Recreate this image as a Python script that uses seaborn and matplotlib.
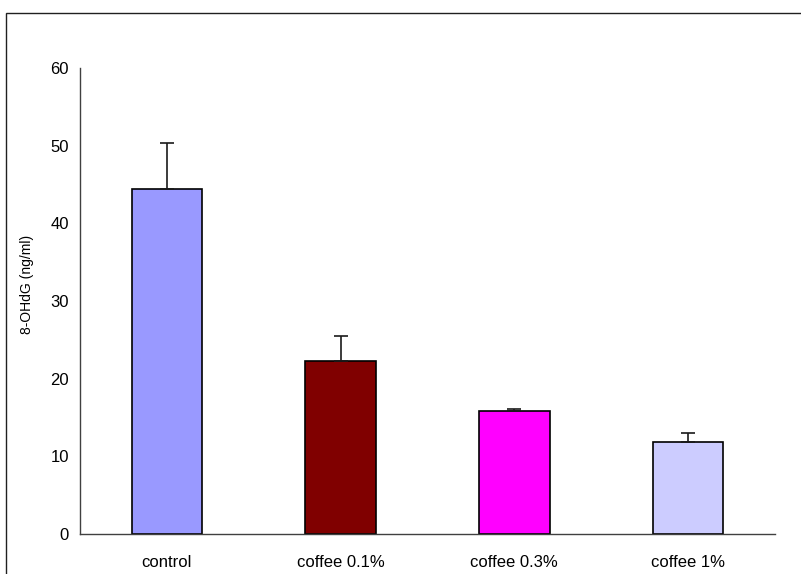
import matplotlib
matplotlib.use("Agg")
import matplotlib.pyplot as plt
from matplotlib.patches import Rectangle
import numpy as np
import pandas as pd
import seaborn as sns

# 8-OHdG levels by treatment group (mean with upper SD bar)
groups = ["control", "coffee 0.1%", "coffee 0.3%", "coffee 1%"]
means = [44.4, 22.25, 15.85, 11.85]
errors = [6.0, 3.25, 0.2, 1.1]
bar_colors = ["#9999FF", "#800000", "#FF00FF", "#CCCCFF"]
y_ticks = [0, 10, 20, 30, 40, 50, 60]

sns.set_theme(style="white")
plt.rcParams["font.family"] = ["Liberation Sans", "DejaVu Sans"]

W, H = 801, 574
fig = plt.figure(figsize=(W / 100, H / 100), dpi=100)
fig.patch.set_facecolor("white")

# plot area in pixel terms
left, right, top, bottom = 80, 775, 68.3, 533.7
ax = fig.add_axes([left / W, 1 - bottom / H, (right - left) / W, (bottom - top) / H])

df = pd.DataFrame({"group": groups, "value": means})
sns.barplot(data=df, x="group", y="value", hue="group", palette=bar_colors,
            order=groups, hue_order=groups, legend=False, errorbar=None,
            width=0.405, edgecolor="black", linewidth=1.2, saturation=1, ax=ax)

# upper-only error bars centred on each bar
centers = [p.get_x() + p.get_width() / 2 for p in ax.patches]
heights = [p.get_height() for p in ax.patches]
ax.errorbar(centers, heights, yerr=[np.zeros(len(errors)), errors], fmt="none",
            ecolor="#1a1a1a", elinewidth=1.2, capsize=4.8, capthick=1.2, zorder=1)

ax.set_xlim(-0.5, len(groups) - 0.5)
ax.set_ylim(0, 60)
ax.set_yticks(y_ticks)
ax.set_yticklabels([str(t) for t in y_ticks], fontsize=12)

# category labels centred, tick marks between categories
ax.set_xticks(np.arange(len(groups)))
ax.set_xticklabels(groups, fontsize=12)
ax.tick_params(axis="x", which="major", length=0, pad=15)
ax.set_xticks(np.arange(len(groups)) + 0.5, minor=True)
ax.tick_params(axis="x", which="minor", length=5, width=1, color="#404040", direction="out")
ax.tick_params(axis="y", length=5, width=1, color="#404040", direction="out", pad=3)
ax.tick_params(which="major", labelcolor="black")

ax.set_xlabel("")
ax.set_ylabel("8-OHdG (ng/ml)", fontsize=10, color="black")
ax.yaxis.set_label_coords((34 - left) / (right - left), 0.535)

for side in ["top", "right"]:
    ax.spines[side].set_visible(False)
for side in ["left", "bottom"]:
    ax.spines[side].set_color("#404040")
    ax.spines[side].set_linewidth(1.0)

# outer chart frame
frame = Rectangle((6 / W, -0.1), 1.2, 1 - 13 / H + 0.1, transform=fig.transFigure,
                  fill=False, edgecolor="#202020", linewidth=1.0, clip_on=False)
fig.add_artist(frame)

fig.savefig("out.png", dpi=100, facecolor="white")
